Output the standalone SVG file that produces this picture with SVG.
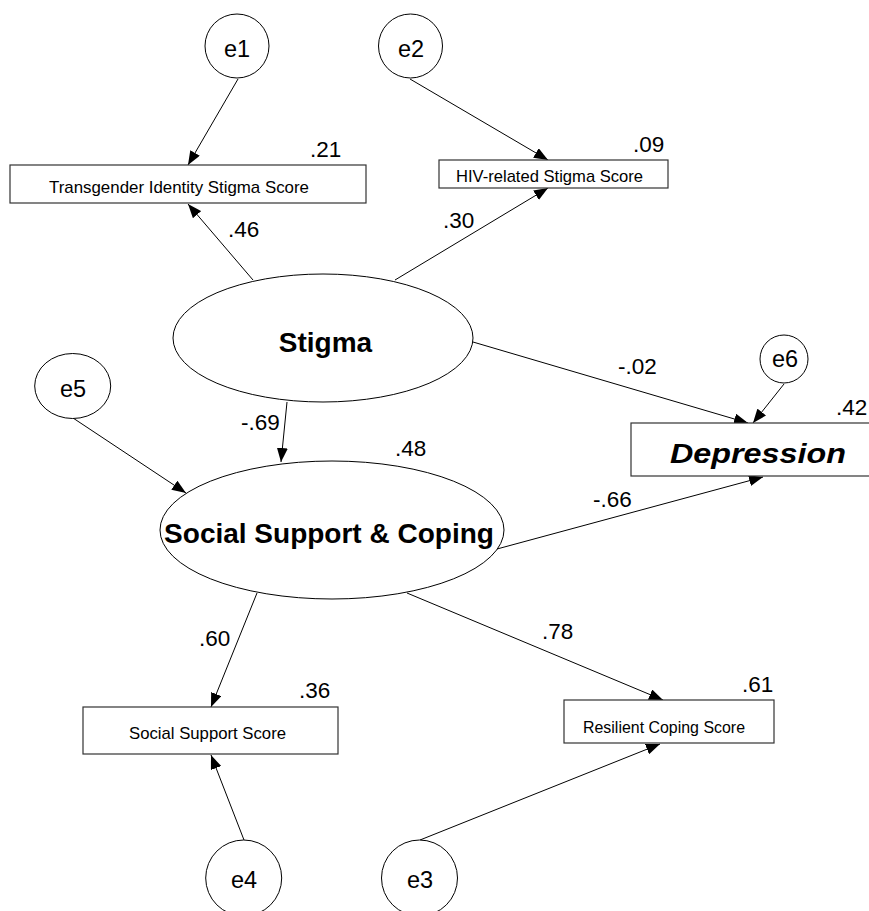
<svg xmlns="http://www.w3.org/2000/svg" width="869" height="911" viewBox="0 0 869 911">
  <style>
    .shape { fill: #ffffff; stroke: #000000; stroke-width: 1; }
    .box { fill: #ffffff; stroke: #333333; stroke-width: 1.2; }
    .edge { fill: none; stroke: #000000; stroke-width: 1; marker-end: url(#arrow); }
    text { font-family: "Liberation Sans", Arial, sans-serif; fill: #000000; }
    .err { font-size: 23.5px; text-anchor: middle; }
    .obs { font-size: 17px; }
    .lat { font-size: 28px; font-weight: bold; text-anchor: middle; }
    .coef { font-size: 22.5px; }
  </style>
  <defs>
    <marker id="arrow" viewBox="0 0 14 11" refX="14" refY="5.5" markerWidth="14" markerHeight="11" markerUnits="userSpaceOnUse" orient="auto">
      <path d="M0,0 L14,5.5 L0,11 z" fill="#000000"/>
    </marker>
  </defs>
  <rect width="869" height="911" fill="#ffffff"/>

  <!-- paths -->
  <g id="connectors">
    <line class="edge" x1="238" y1="79" x2="188" y2="165"/>
    <line class="edge" x1="410" y1="79" x2="548" y2="160"/>
    <line class="edge" x1="253" y1="280" x2="188" y2="204"/>
    <line class="edge" x1="395" y1="280" x2="548" y2="188"/>
    <line class="edge" x1="473" y1="342" x2="748" y2="423"/>
    <line class="edge" x1="784" y1="384" x2="753" y2="423"/>
    <line class="edge" x1="287" y1="402" x2="281" y2="462"/>
    <line class="edge" x1="73" y1="418" x2="186" y2="493"/>
    <line class="edge" x1="497" y1="549" x2="763" y2="477"/>
    <line class="edge" x1="257" y1="593" x2="211" y2="707"/>
    <line class="edge" x1="407" y1="593" x2="663" y2="700"/>
    <line class="edge" x1="244" y1="840" x2="211" y2="755"/>
    <line class="edge" x1="420" y1="840" x2="660" y2="744"/>
  </g>

  <!-- error terms -->
  <g id="e1">
    <circle class="shape" cx="237" cy="46" r="32"/>
    <text class="err" x="237" y="57">e1</text>
  </g>
  <g id="e2">
    <circle class="shape" cx="410.5" cy="46" r="32"/>
    <text class="err" x="411" y="57">e2</text>
  </g>
  <g id="e5">
    <ellipse class="shape" cx="72.7" cy="386" rx="38" ry="32.5"/>
    <text class="err" x="73" y="397">e5</text>
  </g>
  <g id="e6">
    <circle class="shape" cx="784" cy="359" r="24"/>
    <text class="err" x="785" y="367">e6</text>
  </g>
  <g id="e4">
    <circle class="shape" cx="243.7" cy="878" r="38"/>
    <text class="err" x="244" y="888">e4</text>
  </g>
  <g id="e3">
    <circle class="shape" cx="419.5" cy="878" r="38"/>
    <text class="err" x="420" y="888">e3</text>
  </g>

  <!-- observed indicators -->
  <g id="transgender-stigma">
    <rect class="box" x="10" y="165" width="356" height="38"/>
    <text class="obs" x="49" y="193" textLength="260" lengthAdjust="spacingAndGlyphs">Transgender Identity Stigma Score</text>
    <text class="coef" x="310" y="157">.21</text>
  </g>
  <g id="hiv-stigma">
    <rect class="box" x="439" y="160" width="229" height="28"/>
    <text class="obs" x="456" y="182" textLength="187" lengthAdjust="spacingAndGlyphs">HIV-related Stigma Score</text>
    <text class="coef" x="633" y="152">.09</text>
  </g>
  <g id="social-support-score">
    <rect class="box" x="83" y="707" width="255" height="47"/>
    <text class="obs" x="129" y="739" textLength="157" lengthAdjust="spacingAndGlyphs">Social Support Score</text>
    <text class="coef" x="299" y="698">.36</text>
  </g>
  <g id="resilient-coping-score">
    <rect class="box" x="564" y="700" width="210" height="43"/>
    <text class="obs" x="583" y="733" textLength="162" lengthAdjust="spacingAndGlyphs">Resilient Coping Score</text>
    <text class="coef" x="742" y="692">.61</text>
  </g>
  <g id="depression">
    <rect class="box" x="631" y="423" width="260" height="53"/>
    <text x="670" y="463" font-size="28.5" font-weight="bold" font-style="italic" textLength="176" lengthAdjust="spacingAndGlyphs">Depression</text>
    <text class="coef" x="836" y="415">.42</text>
  </g>

  <!-- latent factors -->
  <g id="stigma">
    <ellipse class="shape" cx="323" cy="338" rx="150" ry="64"/>
    <text class="lat" x="325.5" y="352">Stigma</text>
  </g>
  <g id="social-support-coping">
    <ellipse class="shape" cx="332" cy="530" rx="172" ry="69"/>
    <text class="lat" x="329" y="543">Social Support &amp; Coping</text>
    <text class="coef" x="395" y="456">.48</text>
  </g>

  <!-- path coefficients -->
  <g id="coefficients">
    <text class="coef" x="228" y="237">.46</text>
    <text class="coef" x="443" y="228">.30</text>
    <text class="coef" x="618" y="374">-.02</text>
    <text class="coef" x="241" y="430">-.69</text>
    <text class="coef" x="593" y="507">-.66</text>
    <text class="coef" x="199" y="646">.60</text>
    <text class="coef" x="542" y="639">.78</text>
  </g>
</svg>
